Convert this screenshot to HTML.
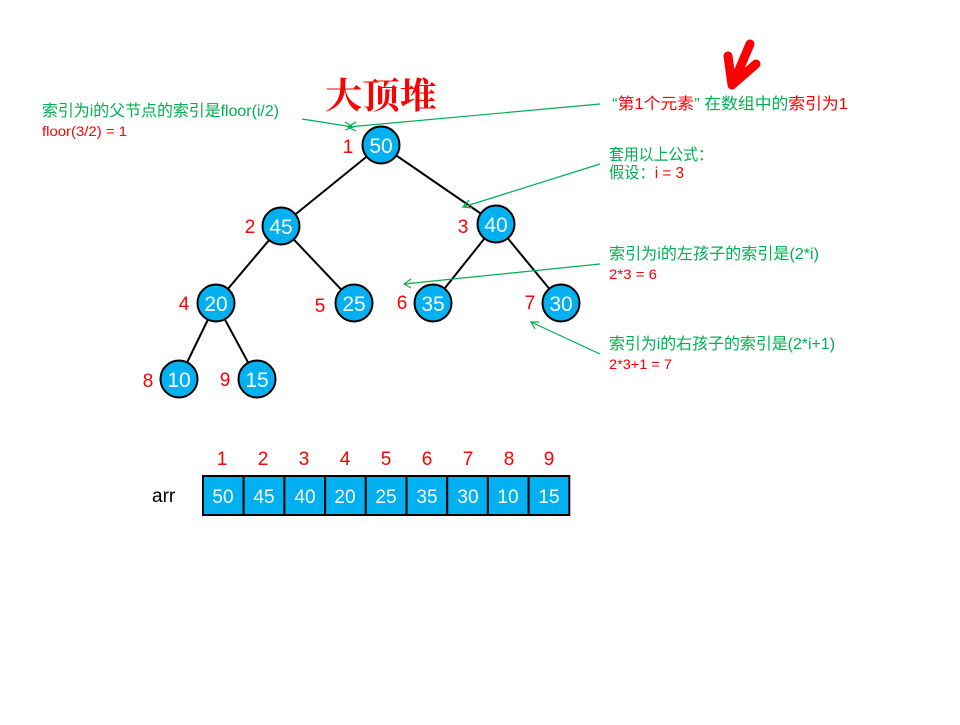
<!DOCTYPE html>
<html><head><meta charset="utf-8"><style>
html,body{margin:0;padding:0;background:#fff;}
svg text{font-family:"Liberation Sans","Noto Sans CJK SC",sans-serif;}
</style></head><body>
<svg width="960" height="720" viewBox="0 0 960 720" xmlns="http://www.w3.org/2000/svg">
<rect width="960" height="720" fill="#fff"/>
<g stroke="#000" stroke-width="2">
<line x1="381" y1="145" x2="281" y2="226"/>
<line x1="381" y1="145" x2="496" y2="224"/>
<line x1="281" y1="226" x2="216" y2="303"/>
<line x1="281" y1="226" x2="354" y2="303"/>
<line x1="496" y1="224" x2="433" y2="303"/>
<line x1="496" y1="224" x2="561" y2="303"/>
<line x1="216" y1="303" x2="179" y2="379"/>
<line x1="216" y1="303" x2="257" y2="379"/>
</g>
<g fill="#00b0f0" stroke="#000" stroke-width="2">
<circle cx="381" cy="145" r="18.5"/>
<circle cx="281" cy="226" r="18.5"/>
<circle cx="496" cy="224" r="18.5"/>
<circle cx="216" cy="303" r="18.5"/>
<circle cx="354" cy="303" r="18.5"/>
<circle cx="433" cy="303" r="18.5"/>
<circle cx="561" cy="303" r="18.5"/>
<circle cx="179" cy="379" r="18.5"/>
<circle cx="257" cy="379" r="18.5"/>
</g>
<g fill="#fff" font-size="21" text-anchor="middle">
<text x="381" y="153">50</text>
<text x="281" y="234">45</text>
<text x="496" y="232">40</text>
<text x="216" y="311">20</text>
<text x="354" y="311">25</text>
<text x="433" y="311">35</text>
<text x="561" y="311">30</text>
<text x="179" y="387">10</text>
<text x="257" y="387">15</text>
</g>
<g fill="#f00" font-size="19" text-anchor="middle">
<text x="348" y="153">1</text>
<text x="250" y="233">2</text>
<text x="463" y="233">3</text>
<text x="184" y="310">4</text>
<text x="320" y="312">5</text>
<text x="402" y="309">6</text>
<text x="530" y="309">7</text>
<text x="148" y="387">8</text>
<text x="225" y="386">9</text>
</g>
<text x="325" y="108" fill="#f00" font-size="36" font-weight="bold" textLength="112" lengthAdjust="spacingAndGlyphs" style='font-family:"Noto Serif CJK SC",serif'>大顶堆</text>
<g fill="#00b0f0" stroke="#000" stroke-width="2">
<rect x="203" y="476" width="40.7" height="39"/>
<rect x="243.7" y="476" width="40.7" height="39"/>
<rect x="284.4" y="476" width="40.7" height="39"/>
<rect x="325.1" y="476" width="40.7" height="39"/>
<rect x="365.8" y="476" width="40.7" height="39"/>
<rect x="406.5" y="476" width="40.7" height="39"/>
<rect x="447.2" y="476" width="40.7" height="39"/>
<rect x="487.9" y="476" width="40.7" height="39"/>
<rect x="528.6" y="476" width="40.7" height="39"/>
</g>
<g fill="#fff" font-size="19" text-anchor="middle">
<text x="223" y="503">50</text><text x="264" y="503">45</text><text x="305" y="503">40</text>
<text x="345" y="503">20</text><text x="386" y="503">25</text><text x="427" y="503">35</text>
<text x="468" y="503">30</text><text x="508" y="503">10</text><text x="549" y="503">15</text>
</g>
<g fill="#f00" font-size="19" text-anchor="middle">
<text x="222" y="465">1</text><text x="263" y="465">2</text><text x="304" y="465">3</text>
<text x="345" y="465">4</text><text x="386" y="465">5</text><text x="427" y="465">6</text>
<text x="468" y="465">7</text><text x="509" y="465">8</text><text x="549" y="465">9</text>
</g>
<text x="152" y="502" fill="#000" font-size="19">arr</text>
<g stroke="#00b050" stroke-width="1.2" fill="none">
<line x1="302" y1="119" x2="353" y2="127"/>
<polyline points="345,122 353,127 345,130"/>
<line x1="600" y1="104" x2="348" y2="127"/>
<polyline points="356,122 348,127 356,131"/>
<line x1="600" y1="164" x2="463" y2="207"/>
<polyline points="469,200 463,207 472,208"/>
<line x1="600" y1="264" x2="404" y2="284"/>
<polyline points="411,279 404,284 411,288"/>
<line x1="600" y1="354" x2="531" y2="322"/>
<polyline points="539,322 531,322 535,329"/>
</g>
<text x="42" y="116" font-size="16" fill="#00b050" textLength="237" lengthAdjust="spacingAndGlyphs">索引为i的父节点的索引是floor(i/2)</text>
<text x="42" y="136" font-size="14" fill="#f00" textLength="85" lengthAdjust="spacingAndGlyphs">floor(3/2) = 1</text>
<text x="612" y="109" font-size="16" textLength="236" lengthAdjust="spacingAndGlyphs"><tspan fill="#00b050">“</tspan><tspan fill="#f00">第1个元素</tspan><tspan fill="#00b050">” 在数组中的</tspan><tspan fill="#f00">索引为1</tspan></text>
<text x="609" y="160" font-size="16" fill="#00b050" textLength="104" lengthAdjust="spacingAndGlyphs">套用以上公式：</text>
<text x="609" y="178" font-size="16" textLength="75" lengthAdjust="spacingAndGlyphs"><tspan fill="#00b050">假设：</tspan><tspan fill="#f00">i = 3</tspan></text>
<text x="609" y="259" font-size="16" fill="#00b050" textLength="210" lengthAdjust="spacingAndGlyphs">索引为i的左孩子的索引是(2*i)</text>
<text x="609" y="279" font-size="14" fill="#f00" textLength="48" lengthAdjust="spacingAndGlyphs">2*3 = 6</text>
<text x="609" y="349" font-size="16" fill="#00b050" textLength="226" lengthAdjust="spacingAndGlyphs">索引为i的右孩子的索引是(2*i+1)</text>
<text x="609" y="369" font-size="14" fill="#f00" textLength="63" lengthAdjust="spacingAndGlyphs">2*3+1 = 7</text>
<g stroke="#f00" stroke-width="9" stroke-linecap="round" stroke-linejoin="round" fill="none">
<polyline points="750,44 733,84"/>
<polyline points="728,56 732,85 756,64"/>
</g>
</svg>
</body></html>
